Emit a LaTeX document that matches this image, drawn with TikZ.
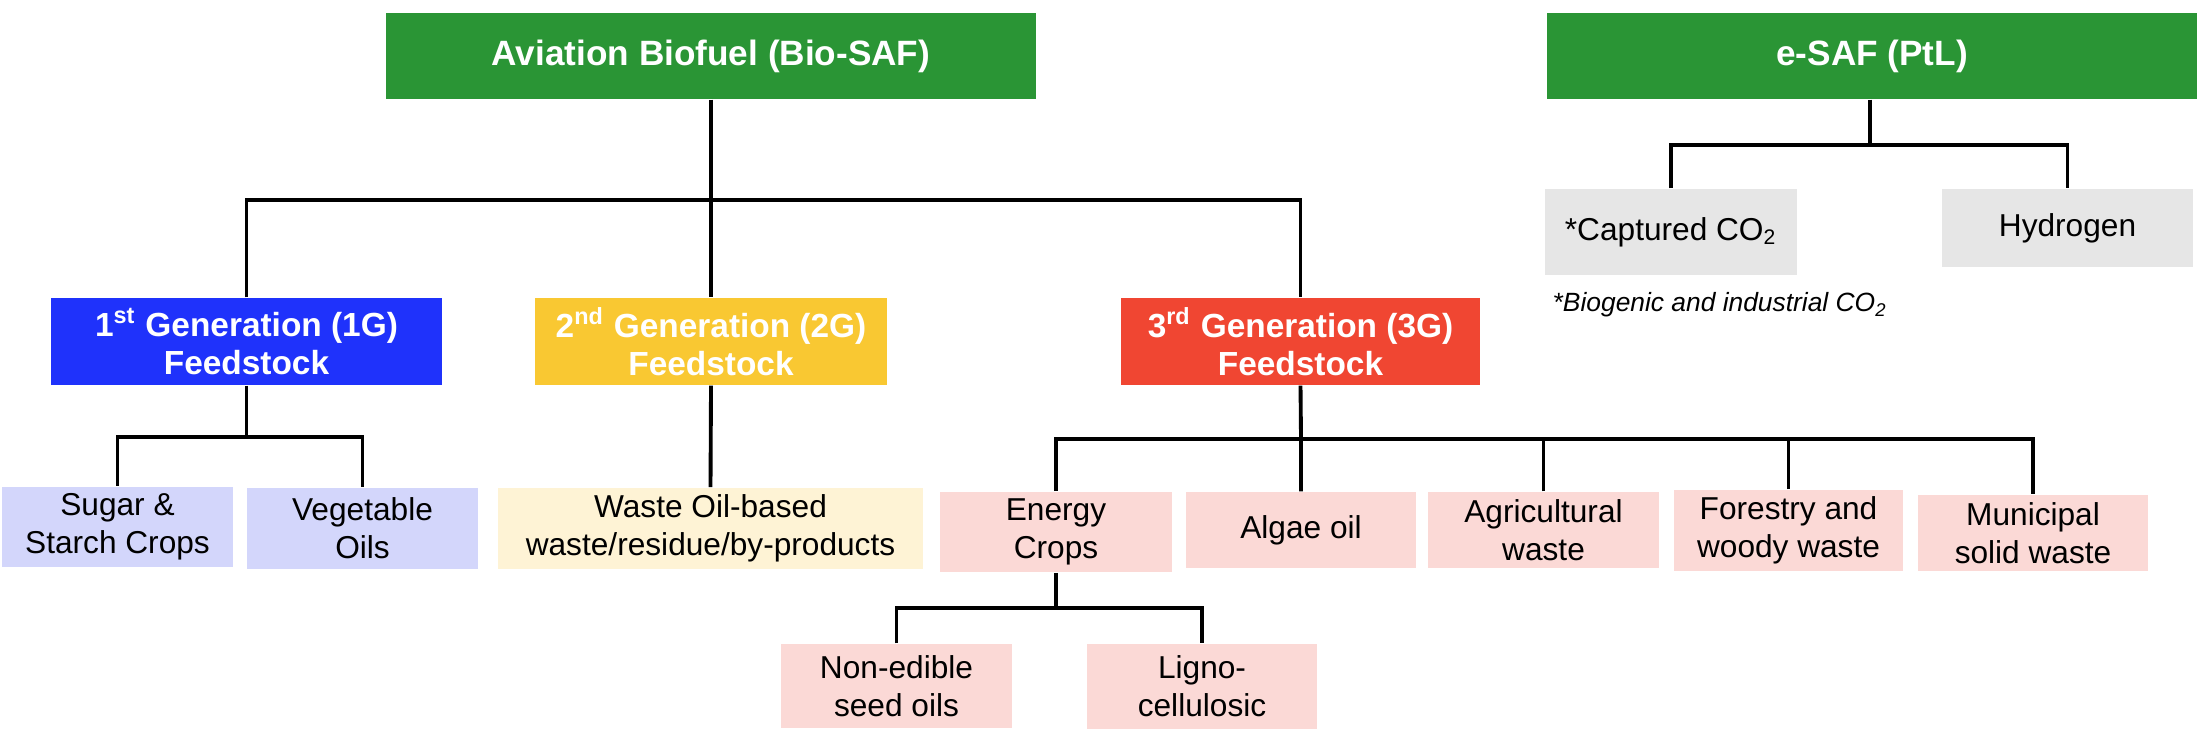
\documentclass[tikz,border=0pt]{standalone}
\usepackage{fontspec}
\setmainfont{Liberation Sans}
\usepackage{xcolor}
\usepackage{tikz}
\usetikzlibrary{positioning, calc}

\definecolor{safgreen}{HTML}{2A9535}
\definecolor{genblue}{HTML}{1F32FB}
\definecolor{genyellow}{HTML}{F9C832}
\definecolor{genred}{HTML}{F04632}
\definecolor{lightblue}{HTML}{D3D6FB}
\definecolor{lightyellow}{HTML}{FEF3D5}
\definecolor{lightpink}{HTML}{FBD9D6}
\definecolor{lightgrey}{HTML}{E6E6E6}

\tikzset{
    headbox/.style={fill=safgreen, text=white, inner sep=2pt, align=center,
        minimum width=6.5cm, minimum height=0.86cm,
        font=\fontsize{10}{12}\selectfont\bfseries},
    genbox/.style={text=white, inner sep=2pt, align=center, minimum height=0.87cm,
        font=\fontsize{9.5}{10.8}\selectfont\bfseries},
    leafbox/.style={inner sep=2pt, align=center,
        font=\fontsize{9}{10.8}\selectfont},
    link/.style={line width=1.1pt}
}

\begin{document}
\begin{tikzpicture}[x=0.01cm, y=-0.01cm]
    \useasboundingbox (0,0) rectangle (2204,740);
        % Top level
        \node[headbox] (bio) at (711,56) {Aviation Biofuel (Bio-SAF)};
        \node[headbox] (esaf) at (1872,56) {e-SAF (PtL)};
        % Generations
        \node[genbox, fill=genblue, minimum width=3.91cm] (gen1) at (246.5,341.5) {1\textsuperscript{st} Generation (1G)\\Feedstock};
        \node[genbox, fill=genyellow, minimum width=3.52cm] (gen2) at (711,341.5) {2\textsuperscript{nd} Generation (2G)\\Feedstock};
        \node[genbox, fill=genred, minimum width=3.59cm] (gen3) at (1300.5,341.5) {3\textsuperscript{rd} Generation (3G)\\Feedstock};
        % e-SAF inputs
        \node[leafbox, fill=lightgrey, minimum width=2.52cm, minimum height=0.86cm] (co2) at (1671,232) {*Captured CO\textsubscript{2}};
        \node[leafbox, fill=lightgrey, minimum width=2.51cm, minimum height=0.78cm] (hyd) at (2067.5,228) {Hydrogen};
        \node[anchor=west, inner sep=0pt, font=\fontsize{7.5}{9}\selectfont\itshape] (note) at (1552,305) {*Biogenic and industrial CO\textsubscript{2}};
        % 1G feedstock
        \node[leafbox, fill=lightblue, minimum width=2.31cm, minimum height=0.78cm] (sugar) at (117.5,527) {Sugar \&\\Starch Crops};
        \node[leafbox, fill=lightblue, minimum width=2.31cm, minimum height=0.81cm] (veg) at (362.5,528.5) {Vegetable\\Oils};
        % 2G feedstock
        \node[leafbox, fill=lightyellow, minimum width=4.25cm, minimum height=0.81cm] (waste) at (710.5,528.5) {Waste Oil-based\\waste/residue/by-products};
        % 3G feedstock
        \node[leafbox, fill=lightpink, minimum width=2.32cm, minimum height=0.80cm] (energy) at (1056,532) {Energy\\Crops};
        \node[leafbox, fill=lightpink, minimum width=2.30cm, minimum height=0.76cm] (algae) at (1301,530) {Algae oil};
        \node[leafbox, fill=lightpink, minimum width=2.31cm, minimum height=0.76cm] (agri) at (1543.5,530) {Agricultural\\waste};
        \node[leafbox, fill=lightpink, minimum width=2.29cm, minimum height=0.77cm] (forest) at (1788.5,530.5) {Forestry and\\woody waste};
        \node[leafbox, fill=lightpink, minimum width=2.30cm, minimum height=0.76cm] (muni) at (2033,533) {Municipal\\solid waste};
        \node[leafbox, fill=lightpink, minimum width=2.31cm, minimum height=0.84cm] (nonedible) at (896.5,686) {Non-edible\\seed oils};
        \node[leafbox, fill=lightpink, minimum width=2.30cm, minimum height=0.85cm] (ligno) at (1202,686.5) {Ligno-\\cellulosic};
        % Bus points
        \coordinate (busbio) at (711,200);
        \coordinate (busesaf) at (1870,145);
        \coordinate (busone) at (246.5,437);
        \coordinate (busthree) at (1301,439);
        \coordinate (busenergy) at (1056,608);
        % Connectors
        \draw[link] (bio.south) -- (gen2.north);
        \draw[link] (gen1.north) |- (busbio) -| (gen3.north);
        \draw[link] (esaf.south -| busesaf) -- (busesaf);
        \draw[link] (co2.north) |- (busesaf) -| (hyd.north);
        \draw[link] (gen1.south) -- (busone);
        \draw[link] (sugar.north) |- (busone) -| (veg.north);
        \draw[link] (gen2.south) -- (waste.north);
        \draw[link] (gen3.south) -- (busthree) -- (algae.north);
        \draw[link] (energy.north) |- (busthree) -| (muni.north);
        \draw[link] (agri.north) -- (agri.north |- busthree);
        \draw[link] (forest.north) -- (forest.north |- busthree);
        \draw[link] (energy.south) -- (busenergy);
        \draw[link] (nonedible.north) |- (busenergy) -| (ligno.north);
    \end{tikzpicture}
\end{document}
